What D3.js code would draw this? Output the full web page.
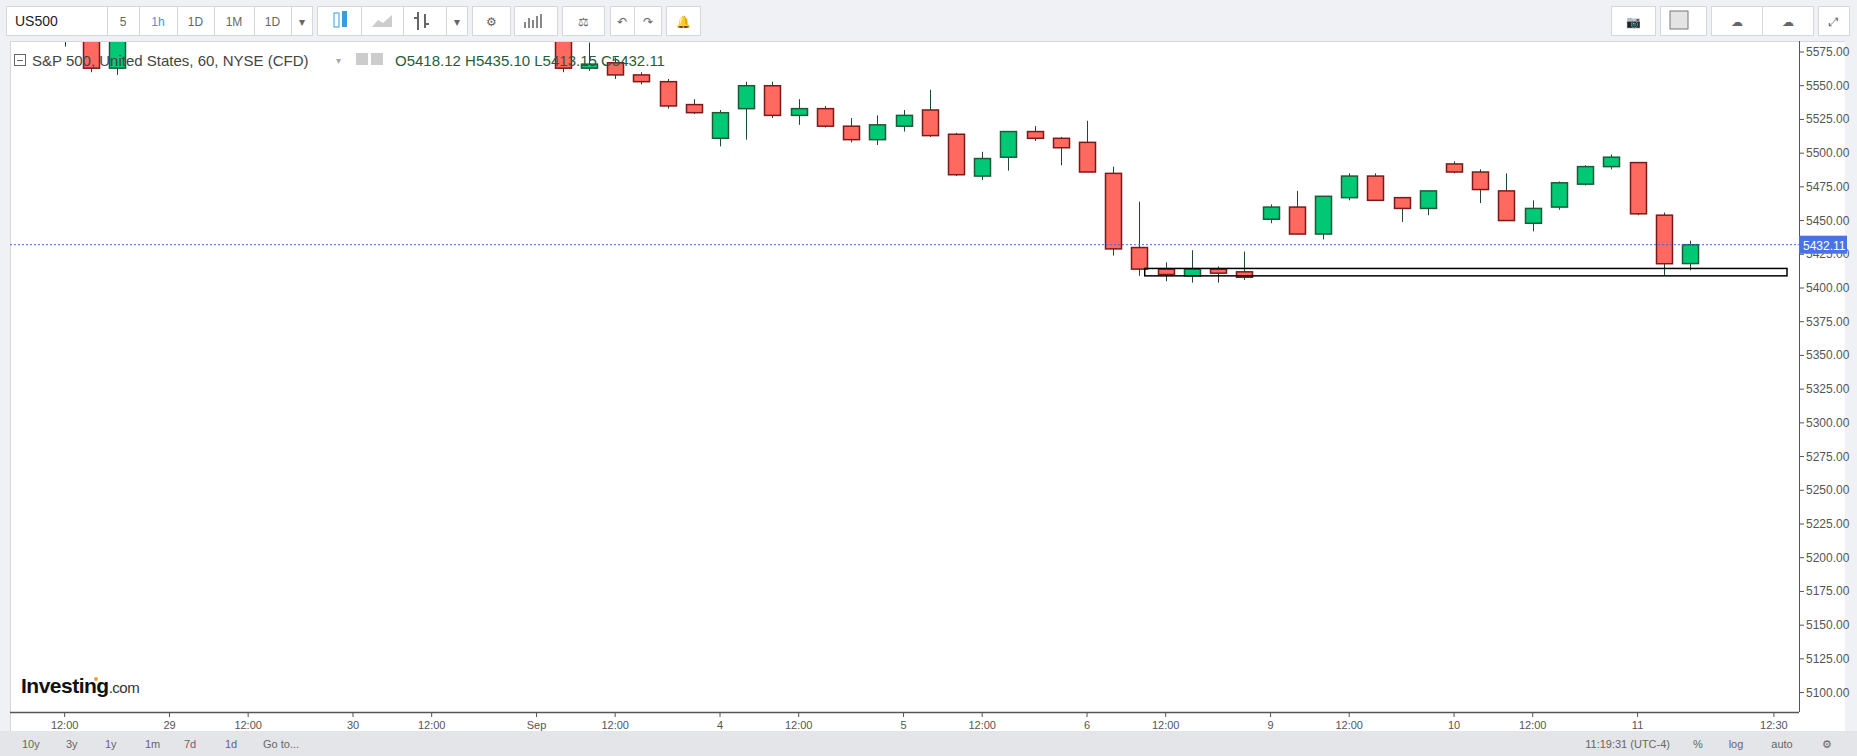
<!DOCTYPE html>
<html><head><meta charset="utf-8">
<script src="https://cdn.jsdelivr.net/npm/d3@7"></script>
<style>
body{margin:0;background:#fff;font-family:"Liberation Sans",Arial,sans-serif;}
svg{display:block}
</style></head>
<body>
<svg id="c" width="1857" height="756"></svg>
<script>
// hourly candles, Aug 28 .. Sep 11
const opens  = [5630,5625,5615,5602,5598,5563,5595, 5600,5610,5622,5636,5630,5608,5600, 5598,5612,5620,5615,5618,5630,5636,
  5645,5610,5563,5567,5558,5553,5536, 5511,5533,5550,5528,5533,5520,5510, 5520,5532,5514,5483,5497,5516,5511,
  5508,5485,5430,5414,5409,5414,5412, 5451,5460,5440,5467,5483,5467,5459, 5492,5486,5472,5448,5460,5477,5490, 5493,5454,5418.12];
const highs  = [5638,5632,5620,5606,5602,5600,5605, 5612,5625,5640,5646,5634,5615,5605, 5615,5625,5630,5622,5635,5640,5650,
  5648,5612,5582,5571,5560,5555,5540, 5532,5553,5553,5540,5535,5526,5528, 5532,5547,5515,5501,5516,5520,5512,
  5524,5490,5464,5419,5428,5416,5427, 5462,5472,5468,5485,5485,5467,5472, 5494,5488,5485,5465,5479,5491,5499, 5493,5456,5435.10];
const lows   = [5622,5610,5598,5579,5560,5558,5590, 5595,5606,5618,5628,5605,5595,5592, 5595,5606,5610,5605,5614,5622,5630,
  5605,5560,5561,5555,5551,5533,5529, 5505,5510,5526,5521,5519,5508,5506, 5516,5512,5483,5480,5487,5509,5491,
  5486,5424,5409,5405,5404,5404,5406, 5448,5440,5436,5465,5465,5449,5454, 5485,5463,5450,5442,5458,5476,5488, 5454,5409,5413.15];
const closes = [5625,5615,5602,5590,5563,5595,5600, 5610,5622,5636,5630,5608,5600,5598, 5612,5620,5615,5618,5630,5636,5645,
  5610,5563,5566,5558,5553,5535,5530, 5530,5550,5528,5533,5520,5510,5521, 5528,5513,5484,5496,5516,5511,5504,
  5486,5429,5414,5410,5414,5411,5408, 5460,5440,5468,5483,5465,5459,5472, 5486,5473,5450,5459,5478,5490,5497, 5455,5418,5432.11];
const xTickPos    = [3,7,10,14,17,21,24,28,31,35,38,42,45,49,52,56,59,63,68.2];
const xTickLabels = ["12:00","29","12:00","30","12:00","Sep","12:00","4","12:00","5","12:00","6","12:00","9","12:00","10","12:00","11","12:30"];
const yTicks = d3.range(5100, 5576, 25);
const lastPrice = 5432.11;
const zoneIdx = [44.2, 68.7], zonePrice = [5409, 5414.5];

const svg = d3.select("#c");
const plot = {l:10, r:1799, t:41, b:712};
const x = d3.scaleLinear().domain([0,65]).range([-14,1690]);
const y = d3.scaleLinear().domain([5400,5575]).range([288,52]);

// toolbar + frame
svg.append("rect").attr("width",1857).attr("height",41).attr("fill","#f0f1f4");
svg.append("rect").attr("x",0).attr("y",41).attr("width",10).attr("height",690).attr("fill","#f0f1f4");
svg.append("rect").attr("x",1845).attr("y",41).attr("width",12).attr("height",690).attr("fill","#f0f1f4");
svg.append("rect").attr("y",731).attr("width",1857).attr("height",25).attr("fill","#e4e5e9");
svg.append("line").attr("x1",10).attr("x2",1845).attr("y1",41.5).attr("y2",41.5).attr("stroke","#d5d7dc");
svg.append("line").attr("x1",10.5).attr("x2",10.5).attr("y1",41).attr("y2",731).attr("stroke","#d5d7dc");

const btns = [[6,101,"US500","start"],[107,32,"5"],[139,38,"1h"],[177,37,"1D"],[214,40,"1M"],[254,37,"1D"],[291,21,"▾"],
  [317,44,""],[361,42,""],[403,43,""],[446,21,"▾"],[472,38,"⚙"],[514,43,""],[562,42,"⚖"],[610,24,"↶"],[634,27,"↷"],[666,34,"🔔"],
  [1611,44,"📷"],[1660,46,"▾"],[1711,51,"☁"],[1762,51,"☁"],[1818,31,"⤢"]];
const tb = svg.append("g");
btns.forEach(b=>{
  tb.append("rect").attr("x",b[0]+0.5).attr("y",6.5).attr("width",b[1]).attr("height",29)
    .attr("fill","#fff").attr("stroke","#d5d7dc");
  tb.append("text").attr("x",b[3]?b[0]+9:b[0]+b[1]/2).attr("y",26)
    .attr("text-anchor",b[3]||"middle").attr("font-size",b[3]?14:12)
    .attr("fill",b[2]==="1h"?"#3a9ce0":(b[2].length>2?"#222":"#666")).text(b[2]);
});
// candle icon, line icon, bars icon
tb.append("rect").attr("x",334).attr("y",13).attr("width",5).attr("height",14).attr("fill","none").attr("stroke","#3a9ce0");
tb.append("rect").attr("x",342).attr("y",11).attr("width",5).attr("height",16).attr("fill","#3a9ce0");
tb.append("path").attr("d","M372 27 L378 20 L383 23 L392 15 L392 27Z").attr("fill","#ccc");
tb.append("path").attr("d","M418 12 V30 M414 18 H418 M425 14 V28 M425 24 H429").attr("stroke","#666").attr("stroke-width",2);
tb.append("path").attr("d","M525 28 V22 M529 28 V18 M533 28 V20 M537 28 V16 M541 28 V14").attr("stroke","#888").attr("stroke-width",2);
tb.append("rect").attr("x",1670).attr("y",11).attr("width",18).attr("height",18).attr("fill","#e4e4e4").attr("stroke","#777");

// y axis
const ya = svg.append("g");
yTicks.forEach(v=>{
  ya.append("line").attr("x1",plot.r).attr("x2",plot.r+5).attr("y1",y(v)).attr("y2",y(v)).attr("stroke","#555");
  ya.append("text").attr("x",plot.r+7).attr("y",y(v)+4).attr("font-size",12).attr("fill","#555").text(v.toFixed(2));
});
svg.append("line").attr("x1",plot.r+0.5).attr("x2",plot.r+0.5).attr("y1",41).attr("y2",plot.b).attr("stroke","#555");

// x axis
svg.append("line").attr("x1",10).attr("x2",plot.r).attr("y1",plot.b+0.5).attr("y2",plot.b+0.5).attr("stroke","#555").attr("stroke-width",1.5);
xTickPos.forEach((p,i)=>{
  svg.append("line").attr("x1",x(p)).attr("x2",x(p)).attr("y1",plot.b).attr("y2",plot.b+5).attr("stroke","#555");
  svg.append("text").attr("x",x(p)).attr("y",plot.b+17).attr("text-anchor","middle").attr("font-size",11).attr("fill","#555").text(xTickLabels[i]);
});

// candles
svg.append("clipPath").attr("id","pc").append("rect").attr("x",plot.l+1).attr("y",plot.t+1).attr("width",plot.r-plot.l-1).attr("height",plot.b-plot.t-1);
const cg = svg.append("g").attr("clip-path","url(#pc)");
const candles = opens.map((o,i)=>({i,o,h:highs[i],l:lows[i],c:closes[i]}));
cg.selectAll("line.w").data(candles).enter().append("line")
  .attr("x1",d=>Math.round(x(d.i))+0.5).attr("x2",d=>Math.round(x(d.i))+0.5)
  .attr("y1",d=>y(d.h)).attr("y2",d=>y(d.l)).attr("stroke","#1d4a30");
cg.selectAll("rect.b").data(candles).enter().append("rect")
  .attr("x",d=>Math.round(x(d.i))-7.5).attr("width",16)
  .attr("y",d=>y(Math.max(d.o,d.c))).attr("height",d=>Math.max(1,Math.abs(y(d.o)-y(d.c))))
  .attr("fill",d=>d.c>=d.o?"#00c875":"#ff6960")
  .attr("stroke",d=>d.c>=d.o?"#1d5a38":"#7a1a1a").attr("stroke-width",1.5);

// support zone
cg.append("rect").attr("x",x(zoneIdx[0])).attr("width",x(zoneIdx[1])-x(zoneIdx[0]))
  .attr("y",y(zonePrice[1])).attr("height",y(zonePrice[0])-y(zonePrice[1]))
  .attr("fill","none").attr("stroke","#000").attr("stroke-width",1.5);

// last price line
svg.append("line").attr("x1",10).attr("x2",plot.r).attr("y1",y(lastPrice)).attr("y2",y(lastPrice))
  .attr("stroke","#3d6bea").attr("stroke-dasharray","2,2");
svg.append("rect").attr("x",plot.r).attr("y",y(lastPrice)-9).attr("width",48).attr("height",18).attr("fill","#4a72e8");
svg.append("text").attr("x",plot.r+4).attr("y",y(lastPrice)+5).attr("font-size",12).attr("fill","#fff").text(lastPrice.toFixed(2));

// legend
const lg = svg.append("g").attr("font-size",15);
lg.append("rect").attr("x",14.5).attr("y",54.5).attr("width",11).attr("height",11).attr("fill","#fff").attr("stroke","#666");
lg.append("line").attr("x1",17).attr("x2",23).attr("y1",60.5).attr("y2",60.5).attr("stroke","#666");
lg.append("text").attr("x",32).attr("y",66).attr("fill","#444").text("S&P 500, United States, 60, NYSE (CFD)");
lg.append("text").attr("x",336).attr("y",64).attr("fill","#aaa").attr("font-size",10).text("▾");
lg.append("rect").attr("x",356).attr("y",53).attr("width",12).attr("height",12).attr("fill","#ccc");
lg.append("rect").attr("x",371).attr("y",53).attr("width",12).attr("height",12).attr("fill","#ccc");
const ohlc = [["O",opens[65]],["H",highs[65]],["L",lows[65]],["C",closes[65]]];
lg.append("text").attr("x",395).attr("y",66).attr("fill","#1f5e3c")
  .text(ohlc.map(d=>d[0]+d[1].toFixed(2)).join("  "));

// logo
svg.append("text").attr("x",21).attr("y",693).attr("font-size",21).attr("font-weight","bold").attr("letter-spacing","-0.5").attr("fill","#111")
  .text("Investing").append("tspan").attr("font-size",15).attr("font-weight","normal").attr("fill","#333").text(".com");
svg.append("circle").attr("cx",96).attr("cy",679).attr("r",2).attr("fill","#f7a21b");

// footer
const ft = svg.append("g").attr("font-size",11).attr("fill","#666");
[["10y",22],["3y",66],["1y",105],["1m",145],["7d",184],["1d",225],["Go to...",263]].forEach(d=>
  ft.append("text").attr("x",d[1]).attr("y",748).attr("fill","#666").text(d[0]));
[["11:19:31 (UTC-4)",1670,"end"],["%",1698,"middle"],["log",1736,"middle"],["auto",1782,"middle"],["⚙",1827,"middle"]].forEach(d=>
  ft.append("text").attr("x",d[1]).attr("y",748).attr("text-anchor",d[2]).attr("fill","#666").text(d[0]));
</script>
</body></html>
